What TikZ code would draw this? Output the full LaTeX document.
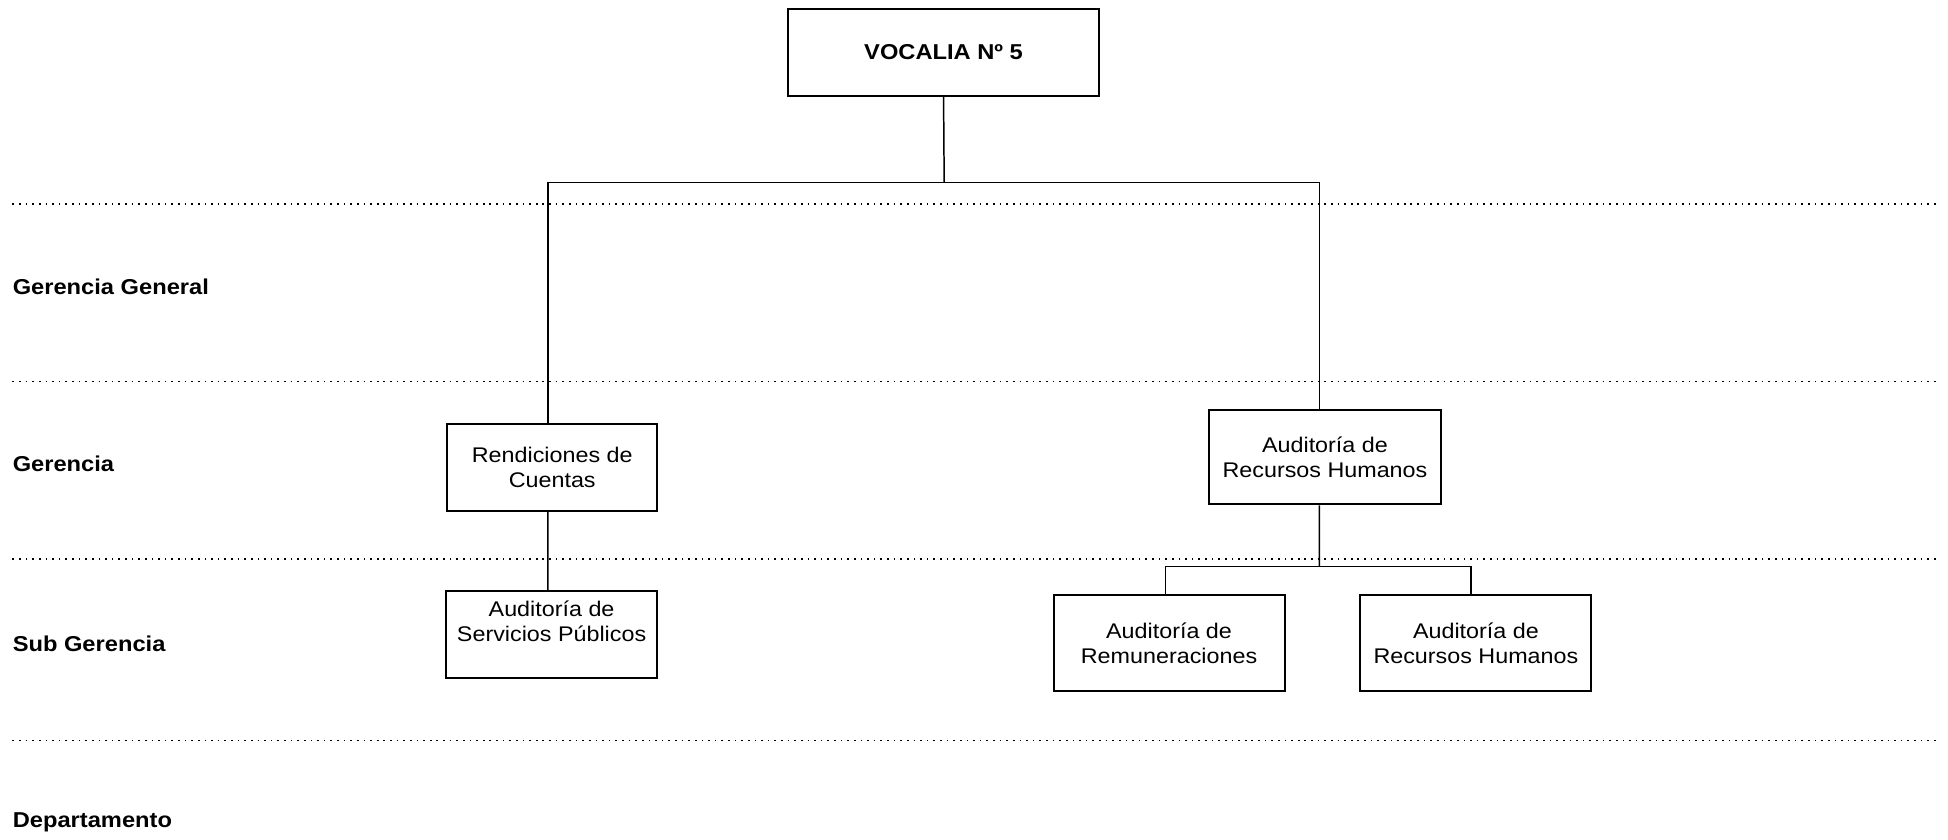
\documentclass[tikz,border=0pt]{standalone}
\usepackage{fontspec}
\setmainfont[FakeStretch=1.1]{Liberation Sans}
\begin{document}
\begin{tikzpicture}[x=0.75pt,y=-0.75pt,
    caja/.style={draw,line width=1.2pt,align=center,inner sep=1pt,font=\fontsize{12.8}{15}\selectfont},
    nivel/.style={anchor=west,inner sep=0pt,font=\fontsize{13}{15}\selectfont\bfseries},
    linea/.style={line width=0.9pt},
    puntos/.style={line width=1pt,dash pattern=on 1pt off 3pt}]
  \useasboundingbox (0,0) rectangle (1568,676);
  %niveles
  \foreach \y in {164,307,450,596} \draw[puntos] (10,\y) -- (1558,\y);
  \node[nivel] (gg) at (10,231) {Gerencia General};
  \node[nivel] (ge) at (10,373) {Gerencia};
  \node[nivel] (sg) at (10,518) {Sub Gerencia};
  \node[nivel] (de) at (10,662) {Departamento};
  %cajas
  \node[caja,minimum width=188.25pt,minimum height=52.5pt,font=\fontsize{13}{15}\selectfont\bfseries] (voc) at (759.5,42) {VOCALIA Nº 5};
  \node[caja,minimum width=126.75pt,minimum height=52.5pt] (ren) at (444.5,376) {Rendiciones de\\Cuentas};
  \node[caja,minimum width=127.5pt,minimum height=52.5pt,text depth=16pt] (ser) at (444,511) {Auditoría de\\Servicios Públicos};
  \node[caja,minimum width=140.25pt,minimum height=57pt] (rh) at (1066.5,368) {Auditoría de\\Recursos Humanos};
  \node[caja,minimum width=139.5pt,minimum height=57.75pt] (rem) at (941,517.5) {Auditoría de\\Remuneraciones};
  \node[caja,minimum width=139.5pt,minimum height=57.75pt] (rhb) at (1188,517.5) {Auditoría de\\Recursos Humanos};
  %conectores
  \coordinate (bus1) at (760,147);
  \coordinate (bus2) at (1062,456);
  \draw[linea] (voc.south) -- (bus1);
  \draw[linea] (bus1) -| ([xshift=-2.6pt]ren.north);
  \draw[linea] (bus1) -| ([xshift=-3.4pt]rh.north);
  \draw[linea] ([xshift=-2.6pt]ren.south) -- ([xshift=-2.2pt]ser.north);
  \draw[linea] ([xshift=-3.4pt]rh.south) -- (bus2);
  \draw[linea] (bus2) -| ([xshift=-2.2pt]rem.north);
  \draw[linea] (bus2) -| ([xshift=-3pt]rhb.north);
\end{tikzpicture}
\end{document}
